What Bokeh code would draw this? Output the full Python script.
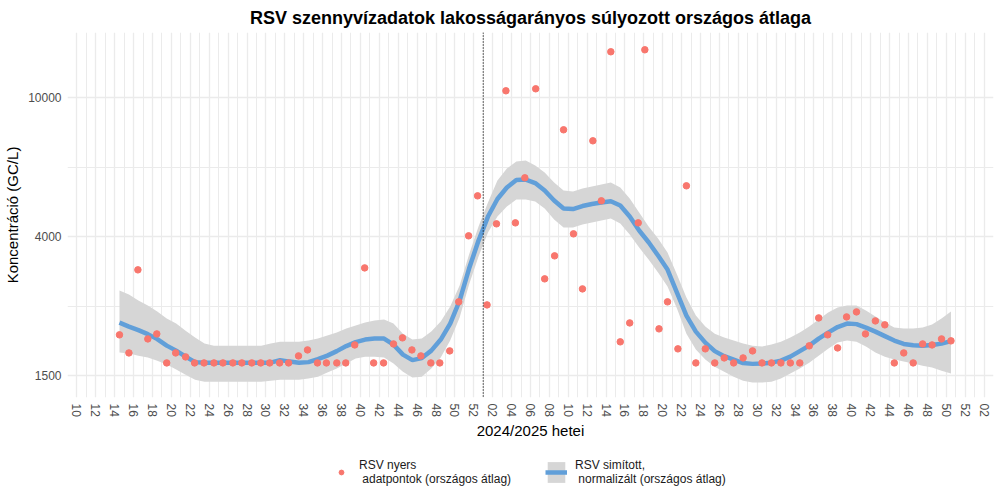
import math
from bokeh.plotting import figure
from bokeh.layouts import column
from bokeh.models import (ColumnDataSource, FixedTicker, Legend, LegendItem, Span,
                          Range1d, CustomJSTickFormatter)
from bokeh.embed import file_html
from bokeh.resources import INLINE

# ---- data -------------------------------------------------------------
# Week index: 0 = 2024 week 10, 43 = 2025 week 01
week_tick_labels = ["10", "12", "14", "16", "18", "20", "22", "24", "26", "28", "30",
                    "32", "34", "36", "38", "40", "42", "44", "46", "48", "50", "52",
                    "02", "04", "06", "08", "10", "12", "14", "16", "18", "20", "22",
                    "24", "26", "28", "30", "32", "34", "36", "38", "40", "42", "44",
                    "46", "48", "50", "52", "02"]
year_start_week = 43  # 2025 week 01

# y axis breaks (log10 positions) and their labels
y_break_log10 = [3.2, 3.6, 4.0]
y_break_labels = ["1500", "4000", "10000"]
y_minor_log10 = [3.0, 3.4, 3.8, 4.2]

# raw national-average data points (sampling position in weeks, GC/L)
raw_week_pos = [4.5, 5.5, 6.45, 7.5, 8.45, 9.5, 10.45, 11.5, 12.45, 13.45,
                14.5, 15.45, 16.5, 17.45, 18.5, 19.45, 20.4, 21.45, 22.4, 23.45,
                24.4, 25.45, 26.4, 27.5, 28.45, 29.4, 30.45, 31.4, 32.45, 33.5,
                34.45, 35.45, 36.4, 37.45, 38.4, 39.45, 40.4, 41.45, 42.4, 43.4,
                44.4, 45.4, 46.4, 47.4, 48.55, 49.5, 50.55, 51.5, 52.55, 53.5,
                54.6, 55.5, 56.5, 57.5, 58.5, 59.4, 60.1, 61.6, 62.5, 63.6,
                64.5, 65.5, 66.5, 67.5, 68.5, 69.5, 70.5, 71.5, 72.5, 73.5,
                74.5, 75.5, 76.5, 77.5, 78.5, 79.45, 80.5, 81.45, 82.5, 83.45,
                84.5, 85.5, 86.5, 87.5, 88.5, 89.5, 90.5, 91.5, 92.5]
raw_conc = [2076, 1842, 3193, 2021, 2089, 1724, 1842, 1794, 1724, 1724,
            1724, 1724, 1724, 1724, 1724, 1724, 1724, 1724, 1724, 1806,
            1879, 1724, 1724, 1724, 1724, 1942, 3235, 1724, 1724, 1955,
            2035, 1879, 1806, 1724, 1724, 1867, 2583, 4000, 5213, 2532,
            4331, 10454, 4359, 5874, 10593, 3008, 3503, 8074, 4053, 2815,
            7506, 5044, 13537, 1982, 2247, 4359, 13718, 2160, 2583, 1892,
            5571, 1724, 1892, 1724, 1782, 1724, 1782, 1867, 1724, 1724,
            1724, 1724, 1724, 1930, 2323, 2076, 1904, 2338, 2417, 2089,
            2277, 2218, 1724, 1842, 1724, 1955, 1942, 2021, 1995]

# smoothed, normalised national average with confidence band (GC/L)
smooth_conc = [2252, 2193, 2142, 2086, 2018, 1933, 1870, 1797, 1733, 1727,
               1727, 1727, 1727, 1727, 1727, 1727, 1727, 1756, 1739, 1727,
               1733, 1768, 1809, 1864, 1927, 1979, 2012, 2025, 2025, 1946,
               1821, 1756, 1780, 1870, 2012, 2237, 2605, 3221, 3877, 4545,
               5104, 5508, 5789, 5808, 5675, 5400, 5054, 4793, 4777, 4873,
               4938, 4987, 5030, 4889, 4545, 4143, 3834, 3510, 3199, 2747,
               2359, 2121, 1972, 1864, 1803, 1762, 1722, 1713, 1716, 1727,
               1750, 1797, 1864, 1933, 2025, 2107, 2186, 2237, 2229, 2178,
               2121, 2059, 1999, 1955, 1937, 1933, 1940, 1959, 1992]
smooth_upper = [2784, 2711, 2605, 2520, 2422, 2312, 2237, 2135, 2039, 1959,
                1933, 1933, 1933, 1933, 1933, 1933, 1959, 1985, 1985, 1985,
                1999, 2025, 2066, 2107, 2164, 2207, 2252, 2282, 2297, 2237,
                2093, 2012, 2025, 2121, 2267, 2503, 2877, 3534, 4254, 4987,
                5770, 6247, 6544, 6587, 6373, 6084, 5694, 5400, 5364, 5472,
                5545, 5619, 5694, 5508, 5121, 4667, 4254, 3929, 3581, 3095,
                2657, 2359, 2193, 2093, 2039, 1999, 1959, 1933, 1921, 1946,
                1985, 2039, 2107, 2193, 2297, 2406, 2487, 2520, 2520, 2438,
                2343, 2252, 2178, 2164, 2164, 2178, 2222, 2312, 2422]
smooth_lower = [1846, 1834, 1809, 1786, 1750, 1705, 1649, 1595, 1543, 1523,
                1523, 1523, 1523, 1523, 1523, 1523, 1533, 1543, 1543, 1543,
                1554, 1574, 1617, 1660, 1716, 1774, 1797, 1797, 1786, 1716,
                1627, 1564, 1574, 1660, 1786, 1999, 2328, 2896, 3487, 4088,
                4545, 4857, 5087, 5087, 5020, 4793, 4456, 4226, 4226, 4310,
                4368, 4426, 4485, 4339, 4034, 3701, 3418, 3136, 2858, 2471,
                2093, 1883, 1762, 1682, 1627, 1574, 1533, 1513, 1513, 1523,
                1554, 1606, 1660, 1727, 1809, 1895, 1972, 1999, 1985, 1921,
                1846, 1797, 1762, 1739, 1716, 1693, 1671, 1638, 1606]
smooth_week_pos = [4.5 + i for i in range(len(smooth_conc))]

# ---- styling constants ------------------------------------------------
FONT = "Liberation Sans"
POINT_COLOR = "#F8766D"
LINE_COLOR = "#619FD9"
BAND_COLOR = "#D6D6D6"
GRID_COLOR = "#EBEBEB"
POINT_SIZE = 6.5
LINE_WIDTH = 4.5

p = figure(width=1000, height=448, y_axis_type="log",
           x_range=Range1d(-1, 97), y_range=Range1d(1371, 15380),
           output_backend="svg", toolbar_location=None,
           min_border_left=67, min_border_right=7, min_border_top=32,
           min_border_bottom=51)
p.outline_line_color = None
p.background_fill_color = "white"

p.title.text = "RSV szennyvízadatok lakosságarányos súlyozott országos átlaga"
p.title.align = "center"
p.title.text_font = FONT
p.title.text_font_size = "18px"
p.title.text_font_style = "bold"
p.title.text_color = "black"

# x axis: every second week labelled, a grid line on every week
x_major = [2 * i for i in range(len(week_tick_labels))]
x_minor = [2 * i + 1 for i in range(len(week_tick_labels) - 1)]
xt = FixedTicker(ticks=x_major, minor_ticks=x_minor)
p.xaxis.ticker = xt
p.xgrid.ticker = xt
p.xaxis.formatter = CustomJSTickFormatter(args=dict(labels=week_tick_labels),
                                          code="return labels[Math.round(tick / 2)];")
p.xaxis.major_label_orientation = -math.pi / 2
p.xaxis.axis_label = "2024/2025 hetei"

y_major = [10 ** v for v in y_break_log10]
y_minor = [10 ** v for v in y_minor_log10]
yt = FixedTicker(ticks=y_major, minor_ticks=y_minor)
p.yaxis.ticker = yt
p.ygrid.ticker = yt
p.yaxis.formatter = CustomJSTickFormatter(args=dict(labels=y_break_labels, breaks=y_major),
                                          code="""
let best = 0;
for (let i = 0; i < breaks.length; i++) {
  if (Math.abs(breaks[i] - tick) < Math.abs(breaks[best] - tick)) best = i;
}
return labels[best];
""")
p.yaxis.axis_label = "Koncentráció (GC/L)"

for ax in (p.xaxis, p.yaxis):
    ax.axis_line_color = None
    ax.major_tick_line_color = None
    ax.minor_tick_line_color = None
    ax.major_tick_out = 0
    ax.minor_tick_out = 0
    ax.major_tick_in = 0
    ax.minor_tick_in = 0
    ax.major_label_text_font = FONT
    ax.major_label_text_font_size = "12px"
    ax.major_label_text_color = "#4D4D4D"
    ax.axis_label_text_font = FONT
    ax.axis_label_text_font_size = "15px"
    ax.axis_label_text_font_style = "normal"
    ax.axis_label_text_color = "black"
p.xaxis.major_label_standoff = 6
p.yaxis.major_label_standoff = 6
p.xaxis.axis_label_standoff = 2
p.yaxis.axis_label_standoff = 4

for g in (p.xgrid, p.ygrid):
    g.grid_line_color = GRID_COLOR
    g.grid_line_width = 1.3
    g.minor_grid_line_color = GRID_COLOR
    g.minor_grid_line_width = 1.0

smooth_src = ColumnDataSource(dict(x=smooth_week_pos, y=smooth_conc,
                                   lo=smooth_lower, hi=smooth_upper))
raw_src = ColumnDataSource(dict(x=raw_week_pos, y=raw_conc))

p.varea(x="x", y1="lo", y2="hi", source=smooth_src, fill_color=BAND_COLOR)
p.line(x="x", y="y", source=smooth_src, line_color=LINE_COLOR, line_width=LINE_WIDTH)
p.scatter(x="x", y="y", source=raw_src, size=POINT_SIZE, fill_color=POINT_COLOR,
          line_color=POINT_COLOR)

# start of 2025
p.add_layout(Span(location=year_start_week, dimension="height", line_color="black",
                  line_width=1.2, line_dash="1 2"))

# ---- legend strip underneath ----------------------------------------
# key glyphs sit outside the visible range of this strip; only the legends show
leg = figure(width=1000, height=52, x_range=(0, 1), y_range=(0, 1),
             output_backend="svg", toolbar_location=None,
             x_axis_location=None, y_axis_location=None,
             min_border=0)
leg.outline_line_color = None
leg.grid.visible = False
key_src = ColumnDataSource(dict(x=[-5, -4], y=[-5, -5], lo=[-6, -6], hi=[-4, -4]))
k_pts = leg.scatter(x="x", y="y", source=key_src, size=POINT_SIZE,
                    fill_color=POINT_COLOR, line_color=POINT_COLOR)
k_band = leg.varea(x="x", y1="lo", y2="hi", source=key_src, fill_color=BAND_COLOR)
k_line = leg.line(x="x", y="y", source=key_src, line_color=LINE_COLOR,
                  line_width=LINE_WIDTH)


def styled_legend(items, loc, glyph_w, glyph_h, standoff):
    lg = Legend(items=items, orientation="horizontal", location=loc)
    lg.border_line_color = None
    lg.background_fill_alpha = 0
    lg.label_text_font = FONT
    lg.label_text_font_size = "12px"
    lg.label_text_color = "#1A1A1A"
    lg.glyph_width = glyph_w
    lg.glyph_height = glyph_h
    lg.label_standoff = standoff
    lg.padding = 4
    lg.margin = 0
    return lg


leg.add_layout(styled_legend(
    [LegendItem(label="RSV nyers\n adatpontok (országos átlag)", renderers=[k_pts])],
    (268, 14), 12, 26, 12), "center")
leg.add_layout(styled_legend(
    [LegendItem(label="RSV simított,\n normalizált (országos átlag)",
                renderers=[k_band, k_line])],
    (478, 14), 22, 26, 8), "center")

layout = column(p, leg, spacing=0)
open("out.html", "w").write(file_html(layout, INLINE))
